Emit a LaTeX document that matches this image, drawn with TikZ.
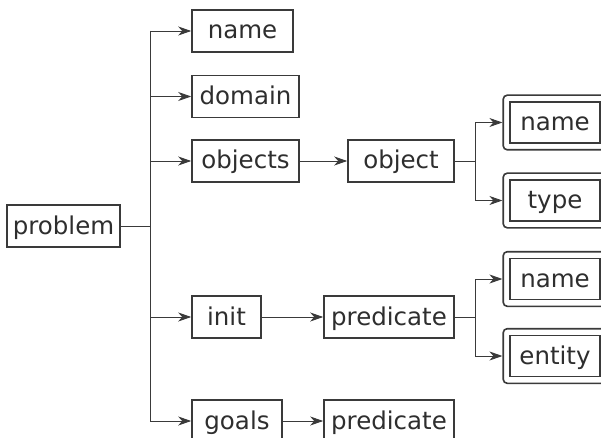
\documentclass[tikz,border=0pt]{standalone}
\usepackage{fontspec}
\setmainfont{DejaVu Sans}
\usetikzlibrary{arrows.meta,fit}
\definecolor{linec}{HTML}{3A3A3A}
\definecolor{textc}{HTML}{2E2E2E}
\begin{document}
\begin{tikzpicture}[x=1pt,y=-1pt,
  box/.style={draw=linec, line width=1.6pt, minimum height=42pt, inner sep=0pt,
    text height=19.5pt, text depth=3.5pt, font=\fontsize{24.5}{28}\selectfont, text=textc},
  outerbox/.style={draw=linec, line width=1.6pt, rounded corners=4pt, inner sep=6pt},
  ln/.style={draw=linec, line width=0.9pt},
  arr/.style={ln, -{Stealth[length=13pt,width=9pt,inset=4pt]}}]
\useasboundingbox (0,0) rectangle (601,438);
\clip (0,0) rectangle (601,438);
\fill[white] (0,0) rectangle (601,438);
% level 1
\node[box, minimum width=113pt] (problem) at (63.5,226) {problem};
% level 2
\node[box, minimum width=101pt] (name1) at (242.5,31) {name};
\node[box, minimum width=107pt] (domain) at (245.5,96.5) {domain};
\node[box, minimum width=107pt] (objects) at (245.5,161) {objects};
\node[box, minimum width=69pt] (init) at (226.5,317) {init};
\node[box, minimum width=90pt] (goals) at (237,421) {goals};
% level 3
\node[box, minimum width=106pt] (object) at (401,161) {object};
\node[box, minimum width=130pt] (pred1) at (389,317) {predicate};
\node[box, minimum width=130pt] (pred2) at (389,421) {predicate};
% level 4
\node[box, minimum width=90pt, minimum height=41pt] (oname) at (555,122.5) {name};
\node[box, minimum width=90pt, minimum height=41pt] (otype) at (555,200.5) {type};
\node[box, minimum width=90pt, minimum height=41pt] (pname) at (555,279) {name};
\node[box, minimum width=90pt, minimum height=41pt] (pentity) at (555,356) {entity};
\node[outerbox, fit=(oname)] (onameO) {};
\node[outerbox, fit=(otype)] (otypeO) {};
\node[outerbox, fit=(pname)] (pnameO) {};
\node[outerbox, fit=(pentity)] (pentityO) {};
% trunk
\coordinate (tr) at (150,226);
\draw[ln] (problem.east) -- (tr);
\draw[ln] (tr |- name1) -- (tr |- goals);
\foreach \n in {name1,domain,objects,init,goals}
  \draw[arr] (tr |- \n) -- (\n.west);
\draw[arr] (objects.east) -- (object.west);
\draw[arr] (init.east) -- (pred1.west);
\draw[arr] (goals.east) -- (pred2.west);
% object branch
\coordinate (ob) at (475,161);
\draw[ln] (object.east) -- (ob);
\draw[ln] (ob |- onameO) -- (ob |- otypeO);
\draw[arr] (ob |- onameO) -- (onameO.west);
\draw[arr] (ob |- otypeO) -- (otypeO.west);
% predicate branch
\coordinate (pb) at (475,317);
\draw[ln] (pred1.east) -- (pb);
\draw[ln] (pb |- pnameO) -- (pb |- pentityO);
\draw[arr] (pb |- pnameO) -- (pnameO.west);
\draw[arr] (pb |- pentityO) -- (pentityO.west);
\end{tikzpicture}
\end{document}
